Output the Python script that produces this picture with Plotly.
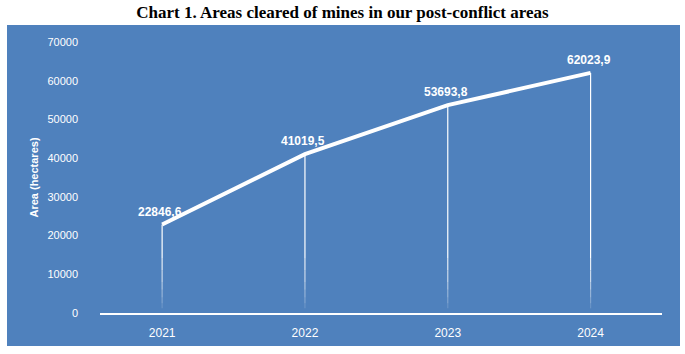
import plotly.graph_objects as go

years = ["2021", "2022", "2023", "2024"]
areas = [22846.6, 41019.5, 53693.8, 62023.9]
y_ticks = [0, 10000, 20000, 30000, 40000, 50000, 60000, 70000]

labels = [f"{v:.1f}".replace(".", ",") for v in areas]
xs = list(range(len(years)))

BLUE = "#4F81BD"
W, H = 685, 354

fig = go.Figure()

# drop lines (fading toward the axis)
fade_stops = [14000, 11000, 8000, 6000, 4000, 2500, 1200]
fade_ops = [0.85, 0.7, 0.55, 0.4, 0.28, 0.15]
lx, ly = [], []
for x, v in zip(xs, areas):
    lx += [x, x, None]
    ly += [v, fade_stops[0], None]
fig.add_trace(go.Scatter(x=lx, y=ly, mode="lines", line=dict(color="white", width=1.2),
                         hoverinfo="skip", showlegend=False))
for i, op in enumerate(fade_ops):
    lx, ly = [], []
    for x in xs:
        lx += [x, x, None]
        ly += [fade_stops[i], fade_stops[i + 1], None]
    fig.add_trace(go.Scatter(x=lx, y=ly, mode="lines", line=dict(color="white", width=1.2),
                             opacity=op, hoverinfo="skip", showlegend=False))

fig.add_trace(go.Scatter(
    x=xs, y=areas, mode="lines",
    line=dict(color="white", width=4), showlegend=False))

for x, v, t in zip(xs, areas, labels):
    fig.add_annotation(x=x, y=v, text=f"<b>{t}</b>", showarrow=False,
                       yanchor="bottom", yshift=4, xshift=-2,
                       font=dict(family="Liberation Sans", size=12, color="white"))

# blue chart background
fig.add_shape(type="rect", xref="paper", yref="paper",
              x0=7 / W, x1=680 / W, y0=1 - 346 / H, y1=1 - 25 / H,
              fillcolor=BLUE, line=dict(width=0), layer="below")

fig.update_layout(
    width=W, height=H, margin=dict(l=0, r=0, t=0, b=0),
    paper_bgcolor="white", plot_bgcolor=BLUE,
    title=dict(text="<b>Chart 1. Areas cleared of mines in our post-conflict areas</b>",
               x=0.5, xanchor="center", y=1 - 12 / H, yanchor="middle",
               font=dict(family="Liberation Serif", size=17, color="black")),
    xaxis=dict(domain=[100 / W, 662 / W], range=[-0.435, 3.5], automargin=False,
               tickvals=xs, ticktext=years, showgrid=False, zeroline=False,
               showline=True, linecolor="white", linewidth=1.5,
               ticks="", ticklabelstandoff=8,
               tickfont=dict(family="Liberation Sans", size=12, color="white")),
    yaxis=dict(domain=[1 - 313 / H, 1 - 42 / H], range=[0, 70000], automargin=False,
               tickvals=y_ticks, ticktext=[str(t) for t in y_ticks],
               showgrid=False, zeroline=False, showline=False, ticks="",
               ticklabelstandoff=21,
               tickfont=dict(family="Liberation Sans", size=11, color="white"),
               title=dict(text="<b>Area (hectares)</b>", standoff=6,
                          font=dict(family="Liberation Sans", size=11, color="white"))),
)

fig.write_html("out.html")
